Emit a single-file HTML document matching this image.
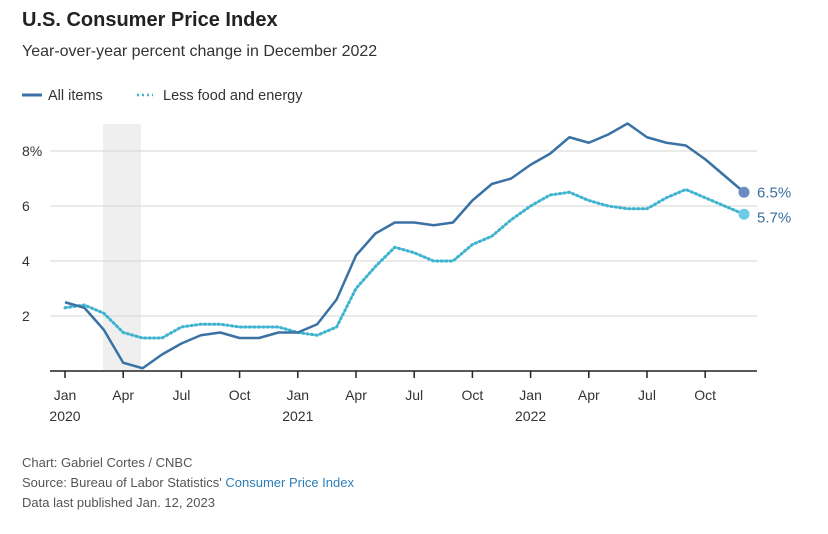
<!DOCTYPE html>
<html><head><meta charset="utf-8"><style>
body{margin:0;background:#fff;width:828px;height:534px;overflow:hidden;font-family:"Liberation Sans",sans-serif;}
svg{display:block}
</style></head><body>
<svg width="828" height="534" id="chart">
<text x="22" y="26" font-size="20" font-weight="bold" fill="#222">U.S. Consumer Price Index</text>
<text x="22" y="56" font-size="16" fill="#333">Year-over-year percent change in December 2022</text>
<g>
<line x1="22" y1="95" x2="42" y2="95" stroke="#3a72a4" stroke-width="3"/>
<text x="48" y="100" font-size="14.5" fill="#333">All items</text>
<line x1="137" y1="95" x2="153" y2="95" stroke="#3eb3cf" stroke-width="2.5" stroke-dasharray="2,3"/>
<text x="163" y="100" font-size="14.5" fill="#333">Less food and energy</text>
</g>
<rect x="103" y="124" width="38" height="247" fill="#efefef"/>
<g id="grid"></g><g id="series"></g>
<text x="22" y="467" font-size="13" fill="#555">Chart: Gabriel Cortes / CNBC</text>
<text x="22" y="487" font-size="13" fill="#555">Source: Bureau of Labor Statistics' <tspan fill="#2f7fb5">Consumer Price Index</tspan></text>
<text x="22" y="507" font-size="13" fill="#555">Data last published Jan. 12, 2023</text>
</svg>
<script>
const allItems=[2.5,2.3,1.5,0.3,0.1,0.6,1.0,1.3,1.4,1.2,1.2,1.4,1.4,1.7,2.6,4.2,5.0,5.4,5.4,5.3,5.4,6.2,6.8,7.0,7.5,7.9,8.5,8.3,8.6,9.0,8.5,8.3,8.2,7.7,7.1,6.5];
const coreItems=[2.3,2.4,2.1,1.4,1.2,1.2,1.6,1.7,1.7,1.6,1.6,1.6,1.4,1.3,1.6,3.0,3.8,4.5,4.3,4.0,4.0,4.6,4.9,5.5,6.0,6.4,6.5,6.2,6.0,5.9,5.9,6.3,6.6,6.3,6.0,5.7];
const yTicks=[2,4,6,8];
const xTickLabels=["Jan","Apr","Jul","Oct","Jan","Apr","Jul","Oct","Jan","Apr","Jul","Oct"];
const yearLabels=["2020","","","","2021","","","","2022","","",""];
const NS="http://www.w3.org/2000/svg";
const xs=i=>65+i*19.4, ys=v=>371-v*27.5;
function mk(t,a,p){const e=document.createElementNS(NS,t);for(const k in a)e.setAttribute(k,a[k]);p.appendChild(e);return e;}
const grid=document.getElementById('grid'), ser=document.getElementById('series');
yTicks.forEach(v=>{
 const l=mk('line',{x1:50,x2:757,y1:ys(v),y2:ys(v),stroke:'#d4d4d4','stroke-width':1},grid);
 
 
 const t=mk('text',{x:22,y:ys(v)+5,'font-size':14,fill:'#333'},grid);
 t.textContent=v+(v===8?'%':'');
 
 
});
const ax=mk('line',{x1:50,x2:757,y1:371,y2:371,stroke:'#222','stroke-width':1.5},grid);


xTickLabels.forEach((lab,k)=>{
 const x=xs(k*3);
 const tk=mk('line',{x1:x,x2:x,y1:371,y2:378,stroke:'#222','stroke-width':1.5},grid);
 
 
 const t=mk('text',{x:x,y:400,'font-size':14,fill:'#333','text-anchor':'middle'},grid);
 t.textContent=lab;
 
 
 if(yearLabels[k]){const y=mk('text',{x:x,y:421,'font-size':14,fill:'#333','text-anchor':'middle'},grid);
 y.textContent=yearLabels[k];
 
 }
});
function line(d,col,dash,name,lblDy){
 const p=mk('polyline',{points:d.map((v,i)=>xs(i)+','+ys(v)).join(' '),fill:'none',stroke:col,'stroke-width':dash?3:2.5,'stroke-linejoin':'round'},ser);
 if(dash){p.setAttribute('stroke-dasharray','1.5,3');p.setAttribute('stroke-linecap','round');}
 
 
 const n=d.length-1;
 const c=mk('circle',{cx:xs(n),cy:ys(d[n]),r:5.5,fill:dash?'#6dcbe8':'#6a8cc0'},ser);
 
 
 const t=mk('text',{x:xs(n)+13,y:ys(d[n])+lblDy,'font-size':15,fill:'#3a6f9e'},ser);
 t.textContent=d[n]+'%';
 
 
}
line(coreItems,'#3eb3cf',true,'core',8);
line(allItems,'#3a72a4',false,'all-items',5);
</script>
</body></html>
